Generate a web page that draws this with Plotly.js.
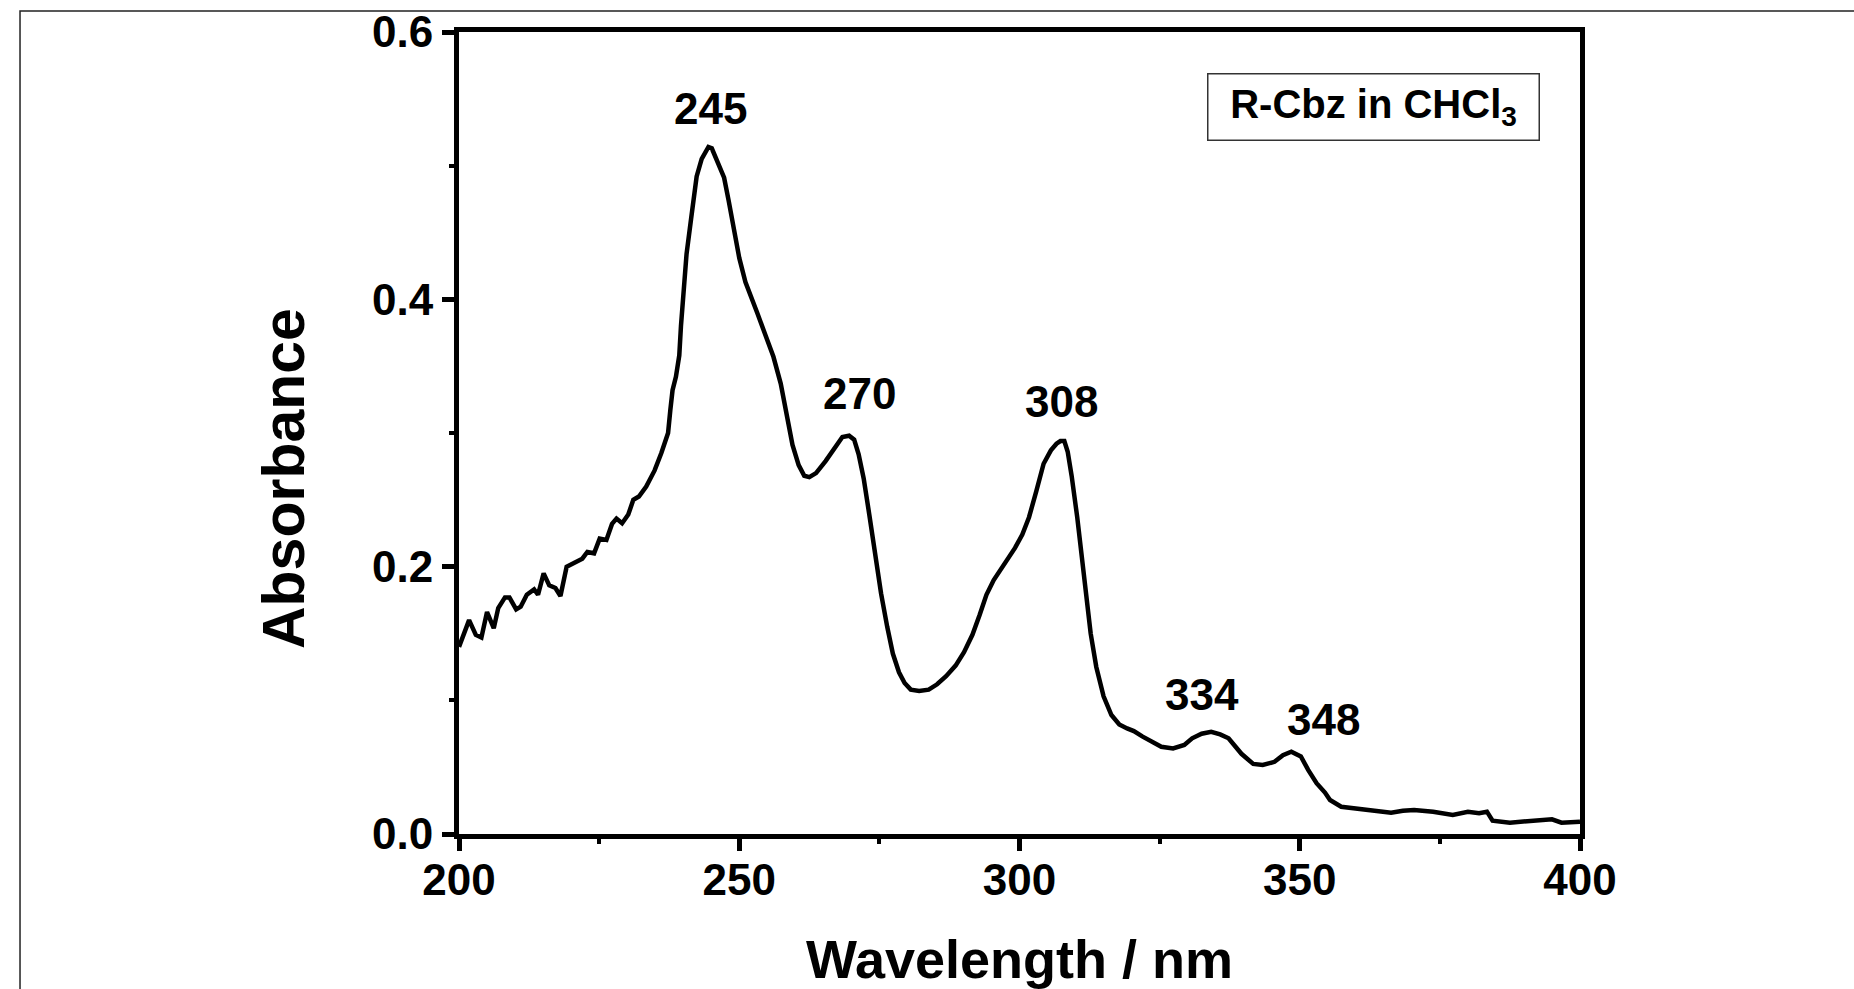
<!DOCTYPE html>
<html>
<head>
<meta charset="utf-8">
<script src="https://cdn.plot.ly/plotly-3.0.1.min.js"></script>
<style>
  html, body { margin: 0; padding: 0; background: #ffffff; }
  #chart { width: 1854px; height: 989px; }
</style>
</head>
<body>
<div id="chart"></div>
<script>
// Wavelength (nm) and absorbance
const wavelength = [
  200.0, 201.0, 201.8, 203.0, 204.0, 205.0, 206.2, 207.0, 208.2, 209.0,
  210.2, 211.0, 212.1, 213.4, 214.1, 215.1, 216.1, 217.2, 218.1, 219.2,
  220.5, 222.0, 222.9, 224.1, 225.1, 226.3, 227.3, 228.1, 229.1, 230.2,
  231.1, 232.1, 233.4, 234.9, 236.1, 237.3, 237.7, 238.1, 238.7, 239.3,
  239.6, 240.0, 240.6, 241.4, 242.4, 243.3, 244.5, 245.1, 246.0, 247.3,
  248.1, 249.0, 250.0, 251.1, 252.1, 253.2, 254.6, 256.1, 257.4, 258.4,
  259.5, 260.6, 261.6, 262.5, 263.7, 265.4, 266.9, 268.4, 269.6, 270.5,
  271.3, 272.2, 273.2, 274.3, 275.3, 276.4, 277.4, 278.5, 279.5, 280.6,
  282.1, 283.8, 285.3, 286.9, 288.6, 290.1, 291.6, 292.9, 294.1, 295.4,
  296.7, 297.9, 299.2, 300.5, 301.7, 303.0, 304.3, 305.6, 306.6, 307.3,
  308.0, 308.6, 309.3, 310.3, 311.0, 311.6, 312.7, 313.7, 315.0, 316.4,
  317.8, 319.2, 320.4, 321.9, 323.5, 325.3, 327.4, 329.4, 330.8, 332.5,
  334.2, 335.8, 337.3, 339.6, 341.7, 343.4, 345.5, 347.0, 348.5, 350.2,
  351.5, 353.0, 354.5, 355.4, 357.4, 359.5, 361.5, 364.0, 366.3, 368.4,
  370.4, 373.8, 377.3, 380.0, 382.0, 383.4, 384.4, 387.5, 390.9, 395.0,
  396.7, 400.0
];
const absorbance = [
  0.140, 0.150, 0.160, 0.149, 0.147, 0.166, 0.154, 0.169, 0.177, 0.177,
  0.168, 0.170, 0.179, 0.183, 0.179, 0.195, 0.186, 0.184, 0.178, 0.200,
  0.2025, 0.206, 0.211, 0.210, 0.221, 0.220, 0.232, 0.236, 0.2325, 0.239,
  0.250, 0.2525, 0.260, 0.272, 0.285, 0.300, 0.317, 0.332, 0.342, 0.358,
  0.380, 0.407, 0.434, 0.460, 0.492, 0.505, 0.514, 0.513, 0.504, 0.491,
  0.474, 0.453, 0.431, 0.413, 0.401, 0.390, 0.374, 0.357, 0.337, 0.314,
  0.291, 0.276, 0.268, 0.267, 0.270, 0.279, 0.288, 0.297, 0.298, 0.295,
  0.284, 0.266, 0.239, 0.208, 0.180, 0.155, 0.135, 0.121, 0.113, 0.108,
  0.107, 0.108, 0.112, 0.118, 0.126, 0.136, 0.149, 0.164, 0.179, 0.190,
  0.198, 0.206, 0.214, 0.224, 0.237, 0.2565, 0.277, 0.287, 0.292, 0.294,
  0.294, 0.286, 0.268, 0.237, 0.2125, 0.1875, 0.150, 0.125, 0.103, 0.089,
  0.082, 0.079, 0.077, 0.073, 0.069, 0.0653, 0.064, 0.0666, 0.0716, 0.075,
  0.0765, 0.0745, 0.0716, 0.060, 0.0524, 0.0516, 0.054, 0.059, 0.0616, 0.058,
  0.048, 0.038, 0.031, 0.0254, 0.0204, 0.0192, 0.018, 0.0172, 0.0160, 0.0174,
  0.018, 0.0167, 0.0142, 0.0167, 0.0155, 0.0167, 0.010, 0.0085, 0.010, 0.011,
  0.0085, 0.0092
];

// Peak labels and their text positions (nm, absorbance)
const peakLabels = ["245", "270", "308", "334", "348"];
const peakLabelX = [244.8, 271.5, 307.5, 332.5, 354.3];
const peakLabelY = [0.5424, 0.3294, 0.3232, 0.1047, 0.0860];

const sampleLabel = "R-Cbz in CHCl<sub>3</sub>";
const xTitle = "Wavelength / nm";
const yTitle = "Absorbance";

const FONT = "Liberation Sans, Arial, Helvetica, sans-serif";

const trace = {
  x: wavelength,
  y: absorbance,
  type: "scatter",
  mode: "lines",
  line: { color: "#000000", width: 4.5 },
  showlegend: false,
  hoverinfo: "x+y"
};

const annotations = peakLabels.map((t, i) => ({
  x: peakLabelX[i], y: peakLabelY[i], xref: "x", yref: "y",
  text: t, showarrow: false, xanchor: "center", yanchor: "middle",
  font: { family: FONT, size: 44, color: "#000000", weight: "bold" }
}));

annotations.push({
  x: 0.816, y: 0.906, xref: "paper", yref: "paper",
  text: sampleLabel, showarrow: false, xanchor: "center", yanchor: "middle",
  width: 330, height: 65, align: "center", valign: "middle",
  bordercolor: "#333333", borderwidth: 1.5, borderpad: 0, bgcolor: "#ffffff",
  font: { family: FONT, size: 40, color: "#000000", weight: "bold" }
});

// y-axis title, placed as in the reference (slightly below the axis centre)
annotations.push({
  x: -0.1561, y: 0.4426, xref: "paper", yref: "paper",
  text: yTitle, showarrow: false, textangle: -90,
  xanchor: "center", yanchor: "middle",
  font: { family: FONT, size: 59, color: "#000000", weight: "bold" }
});

const axisCommon = {
  showgrid: false, zeroline: false,
  showline: true, linecolor: "#000000", linewidth: 5, mirror: true,
  ticks: "outside", ticklen: 12, tickwidth: 5, tickcolor: "#000000",
  tickfont: { family: FONT, size: 44, color: "#000000", weight: "bold" }
};

const layout = {
  width: 1854, height: 989,
  margin: { l: 459, r: 274, t: 32, b: 155 },
  paper_bgcolor: "#ffffff", plot_bgcolor: "#ffffff",
  showlegend: false,
  xaxis: Object.assign({}, axisCommon, {
    range: [200, 400], tick0: 200, dtick: 50,
    minor: { dtick: 25, ticks: "outside", ticklen: 5, tickwidth: 4, tickcolor: "#000000" },
    ticklabelstandoff: -9,
    title: { text: xTitle, standoff: 49,
      font: { family: FONT, size: 54, color: "#000000", weight: "bold" } }
  }),
  yaxis: Object.assign({}, axisCommon, {
    range: [0, 0.6], tick0: 0, dtick: 0.2, tickformat: ".1f",
    minor: { dtick: 0.1, ticks: "outside", ticklen: 5, tickwidth: 4, tickcolor: "#000000" }
  }),
  shapes: [{
    type: "rect", xref: "paper", yref: "paper",
    x0: -0.3916, x1: 1.30, y0: -0.25, y1: 1.0262,
    line: { color: "#222222", width: 1.5 }, fillcolor: "rgba(0,0,0,0)", layer: "below"
  }],
  annotations: annotations
};

Plotly.newPlot("chart", [trace], layout, { displayModeBar: false, staticPlot: true });
</script>
</body>
</html>
